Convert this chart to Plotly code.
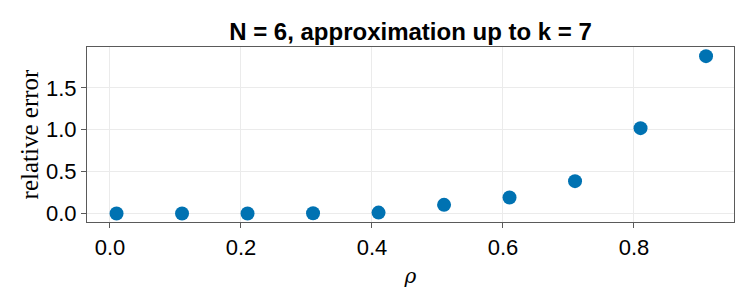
import plotly.graph_objects as go

rho = [0.01, 0.11, 0.21, 0.31, 0.41, 0.51, 0.61, 0.71, 0.81, 0.91]
rel_error = [0.0, 0.0, 0.0, 0.003, 0.01, 0.103, 0.191, 0.386, 1.019, 1.879]
x_ticks = [0.0, 0.2, 0.4, 0.6, 0.8]
x_tick_labels = ["0.0", "0.2", "0.4", "0.6", "0.8"]
y_ticks = [0.0, 0.5, 1.0, 1.5]
y_tick_labels = ["0.0", "0.5", "1.0", "1.5"]

fig = go.Figure()
fig.add_trace(go.Scatter(
    x=rho, y=rel_error, mode="markers",
    marker=dict(color="#0072B2", size=14, line=dict(width=0)),
    showlegend=False,
))

axis_common = dict(
    showline=True, linecolor="#5a5a5a", linewidth=1.2, mirror=True,
    showgrid=True, gridcolor="#ebebeb", gridwidth=1,
    zeroline=False, ticks="outside", ticklen=5, tickcolor="#5a5a5a", tickwidth=1,
    tickfont=dict(family="Liberation Sans, Arial, sans-serif", size=22, color="black"),
    automargin=False,
)

fig.update_layout(
    width=750, height=300,
    margin=dict(l=79, r=24, t=39, b=86),
    paper_bgcolor="white", plot_bgcolor="white",
    title=dict(
        text="<b>N = 6, approximation up to k = 7</b>",
        x=0.5, xanchor="center", xref="paper", y=0.923, yanchor="middle", yref="container",
        font=dict(family="Liberation Sans, Arial, sans-serif", size=24, color="black"),
        automargin=False,
    ),
    xaxis=dict(
        range=[-0.0351, 0.9527], tickvals=x_ticks, ticktext=x_tick_labels,
        title=dict(text="<i>ρ</i>", standoff=10,
                   font=dict(family="DejaVu Serif, Liberation Serif, serif", size=20, color="black")),
        **axis_common,
    ),
    yaxis=dict(
        range=[-0.102, 1.988], tickvals=y_ticks, ticktext=y_tick_labels,
        title=dict(text="relative error", standoff=0,
                   font=dict(family="Liberation Serif, DejaVu Serif, serif", size=25, color="black")),
        **axis_common,
    ),
)

fig.write_html("out.html")
